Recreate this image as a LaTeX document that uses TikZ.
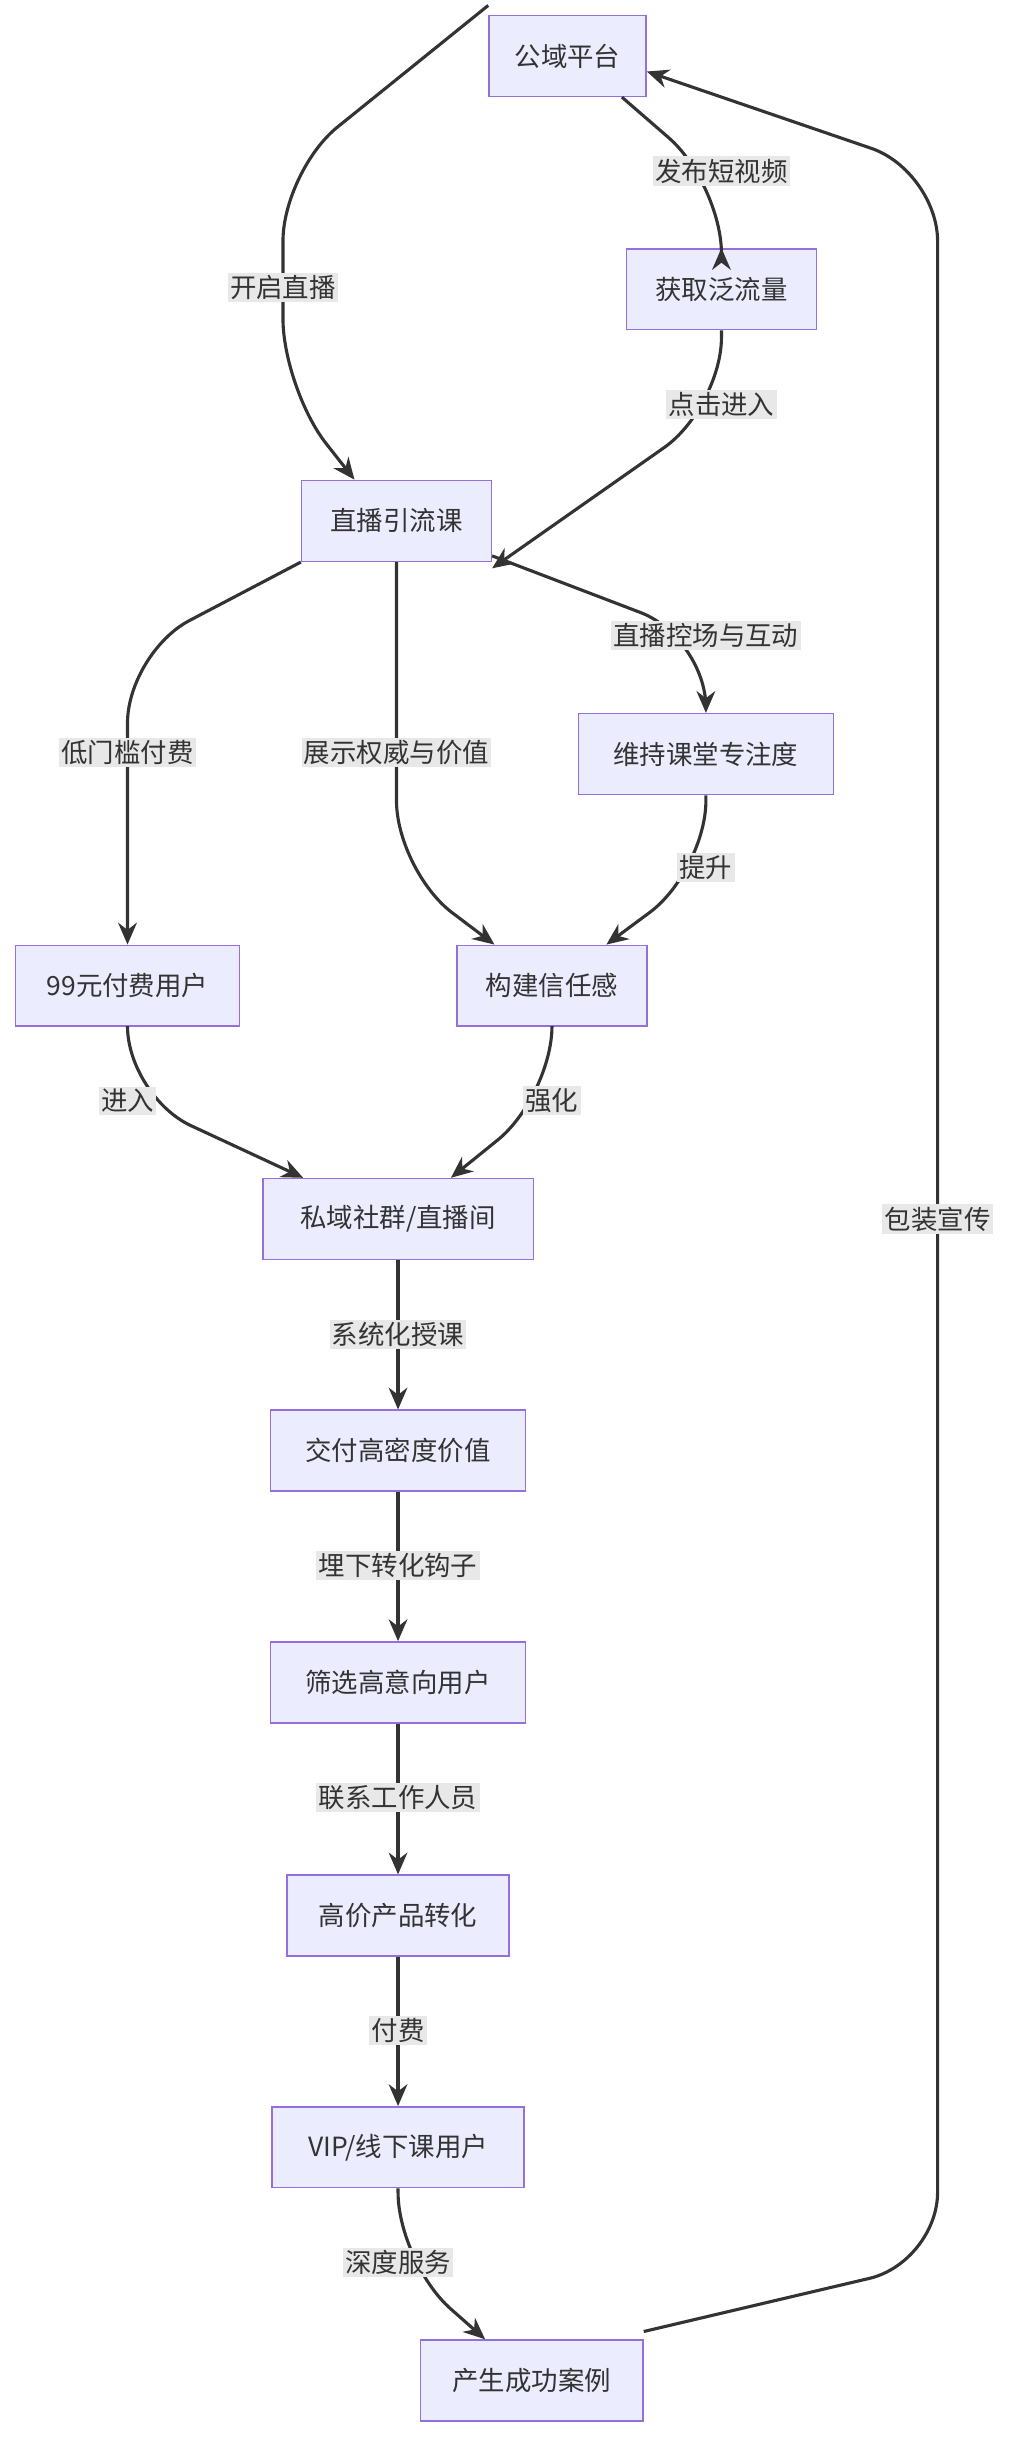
\documentclass[tikz,border=0pt]{standalone}
\usepackage{fontspec}
\setmainfont{Noto Sans CJK SC}
\usetikzlibrary{arrows.meta}
\definecolor{nfill}{HTML}{ECECFF}
\definecolor{nline}{HTML}{9370DB}
\definecolor{eline}{HTML}{333333}
\definecolor{lbg}{HTML}{E8E8E8}
\begin{document}
\begin{tikzpicture}[x=1pt,y=-1pt,
  box/.style={draw=nline,fill=nfill,line width=1pt,minimum height=52pt,inner xsep=10pt,font=\fontsize{17}{20}\selectfont,text=eline},
  lab/.style={fill=lbg,inner sep=1.5pt,font=\fontsize{17}{20}\selectfont,text=eline},
  edge/.style={draw=eline,line width=2pt,rounded corners=45pt,-{Stealth[length=14pt,width=12pt]}}]
\useasboundingbox[fill=white] (0,0) rectangle (655,1568);
\node[box,minimum width=101pt] (a) at (365,36) {公域平台};
\node[box,minimum width=122pt] (b) at (464,186) {获取泛流量};
\node[box,minimum width=122pt] (c) at (255,335) {直播引流课};
\node[box,minimum width=164pt] (d) at (454,485) {维持课堂专注度};
\node[box,minimum width=144pt] (e) at (82,634) {99元付费用户};
\node[box,minimum width=122pt] (f) at (355,634) {构建信任感};
\node[box,minimum width=174pt] (g) at (256,784) {私域社群/直播间};
\node[box,minimum width=164pt] (h) at (256,933) {交付高密度价值};
\node[box,minimum width=164pt] (i) at (256,1082) {筛选高意向用户};
\node[box,minimum width=143pt] (j) at (256,1232) {高价产品转化};
\node[box,minimum width=162pt] (k) at (256,1381) {VIP/线下课用户};
\node[box,minimum width=143pt] (l) at (342,1531) {产生成功案例};

\draw[edge] ([xshift=35pt]a.south) -- (464,118) -- (b.north);
\draw[edge] ([yshift=6pt]a.north west) -- (182,110) -- (182,250) -- ([xshift=-27pt]c.north);
\draw[edge] (b.south) -- (464,262) -- ([yshift=-4pt]c.south east);
\draw[edge] (c.south west) -- (82,420) -- (e.north);
\draw[edge] (c.south) -- (255,560) -- ([xshift=-37pt]f.north);
\draw[edge] ([yshift=4pt]c.south east) -- (454,410) -- (d.north);
\draw[edge] (d.south) -- (454,560) -- ([xshift=35pt]f.north);
\draw[edge] (e.south) -- (82,705) -- ([xshift=-61pt]g.north);
\draw[edge] (f.south) -- (355,705) -- ([xshift=34pt]g.north);
\draw[edge] (g) -- (h);
\draw[edge] (h) -- (i);
\draw[edge] (i) -- (j);
\draw[edge] (j) -- (k);
\draw[edge] (k.south) -- (256,1455) -- ([xshift=-30pt]l.north);
\draw[edge] ([yshift=5pt]l.north east) -- (603,1455) -- (603,110) -- ([yshift=-10pt]a.east);

\node[lab] (l1) at (464,110) {发布短视频};
\node[lab] (l2) at (182,185) {开启直播};
\node[lab] (l3) at (464,260) {点击进入};
\node[lab] (l4) at (82,484) {低门槛付费};
\node[lab] (l5) at (255,484) {展示权威与价值};
\node[lab] (l6) at (454,409) {直播控场与互动};
\node[lab] (l7) at (454,558) {提升};
\node[lab] (l8) at (82,708) {进入};
\node[lab] (l9) at (355,708) {强化};
\node[lab] (l10) at (256,858) {系统化授课};
\node[lab] (l11) at (256,1007) {埋下转化钩子};
\node[lab] (l12) at (256,1156) {联系工作人员};
\node[lab] (l13) at (256,1306) {付费};
\node[lab] (l14) at (256,1455) {深度服务};
\node[lab] (l15) at (603,784) {包装宣传};
\end{tikzpicture}
\end{document}
